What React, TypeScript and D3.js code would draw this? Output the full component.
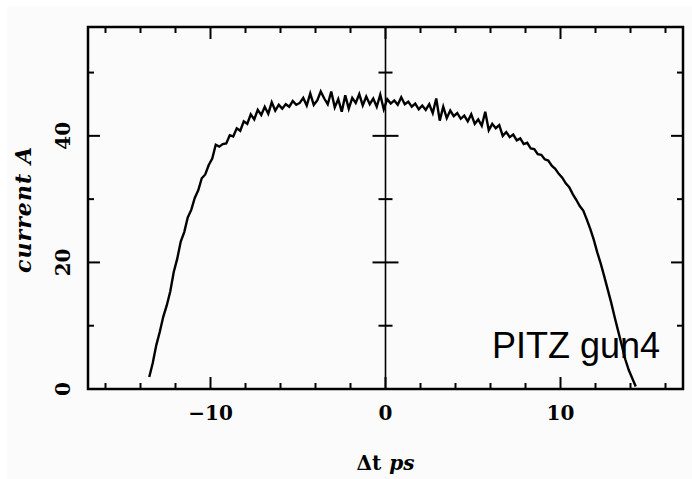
import React from "react";
import * as d3 from "d3";

const TIMES = [
  -13.5, -13.3, -13.1, -12.9, -12.7, -12.5, -12.3, -12.1, -11.9, -11.7,
  -11.5, -11.3, -11.1, -10.9, -10.7, -10.5, -10.3, -10.1, -9.9, -9.7,
  -9.5, -9.3, -9.1, -8.9, -8.7, -8.5, -8.3, -8.1, -7.9, -7.7,
  -7.5, -7.3, -7.1, -6.9, -6.7, -6.5, -6.3, -6.1, -5.9, -5.7,
  -5.5, -5.3, -5.1, -4.9, -4.7, -4.5, -4.3, -4.1, -3.9, -3.7,
  -3.5, -3.3, -3.1, -2.9, -2.7, -2.5, -2.3, -2.1, -1.9, -1.7,
  -1.5, -1.3, -1.1, -0.9, -0.7, -0.5, -0.3, -0.1, 0.1, 0.3,
  0.5, 0.7, 0.9, 1.1, 1.3, 1.5, 1.7, 1.9, 2.1, 2.3,
  2.5, 2.7, 2.9, 3.1, 3.3, 3.5, 3.7, 3.9, 4.1, 4.3,
  4.5, 4.7, 4.9, 5.1, 5.3, 5.5, 5.7, 5.9, 6.1, 6.3,
  6.5, 6.7, 6.9, 7.1, 7.3, 7.5, 7.7, 7.9, 8.1, 8.3,
  8.5, 8.7, 8.9, 9.1, 9.3, 9.5, 9.7, 9.9, 10.1, 10.3,
  10.5, 10.7, 10.9, 11.1, 11.3, 11.5, 11.7, 11.9, 12.1, 12.3,
  12.5, 12.7, 12.9, 13.1, 13.3, 13.5, 13.7, 13.9, 14.1, 14.3,
];

const CURRENT = [
  1.9, 4.1, 6.9, 9.0, 11.4, 13.2, 15.4, 18.5, 20.6, 23.3,
  24.8, 27.1, 28.3, 30.2, 31.4, 33.3, 33.9, 35.4, 36.4, 38.6,
  38.3, 38.7, 38.8, 40.1, 39.9, 41.2, 40.8, 42.3, 41.9, 43.4,
  42.6, 44.1, 43.3, 44.6, 43.5, 45.3, 44.0, 44.9, 44.3, 45.0,
  44.6, 45.5, 44.9, 45.2, 46.0, 44.8, 46.7, 44.9, 45.6, 47.0,
  45.9, 45.0, 47.0, 44.5, 45.8, 43.8, 46.4, 44.3, 46.0, 45.2,
  46.6, 44.8, 46.2, 45.0, 45.9, 44.6, 46.5, 44.2, 45.8, 45.1,
  45.6, 44.9, 46.1, 45.0, 45.4, 44.6, 45.1, 44.2, 44.8, 44.1,
  45.0, 43.6, 45.9, 42.4, 44.6, 42.8, 44.0, 43.1, 43.6, 42.7,
  43.2, 42.3, 43.4, 41.9, 42.6, 41.6, 43.8, 40.9, 41.9, 41.2,
  41.7, 40.0, 40.6, 39.8, 40.2, 39.3, 39.6, 38.7, 38.9, 38.0,
  37.9, 37.1, 37.0, 36.3, 36.1, 35.3, 34.8, 34.0, 33.4, 32.5,
  31.9, 30.8, 29.9, 28.9, 28.2, 26.8, 25.3, 23.6, 21.6, 19.8,
  17.8, 15.7, 13.6, 11.3, 9.1, 6.9, 4.7, 3.0, 1.7, 0.4,
];

const X_MAJOR = [-10, 0, 10];
const X_MAJOR_LABELS = ["\u221210", "0", "10"];
const X_MINOR = [-16, -14, -12, -8, -6, -4, -2, 2, 4, 6, 8, 12, 14, 16];
const Y_MAJOR = [0, 20, 40];
const Y_MAJOR_LABELS = ["0", "20", "40"];
const Y_MINOR = [10, 30, 50];
const X_TITLE_A = "\u0394t";
const X_TITLE_B = "ps";
const Y_TITLE = "current A";
const NOTE = "PITZ gun4";

const W = 692;
const H = 479;
const L = 88;
const R = 683;
const T = 27;
const B = 389;

export default function App() {
  const x = d3.scaleLinear().domain([-17, 17]).range([L, R]);
  const y = d3.scaleLinear().domain([0, 57.2]).range([B, T]);
  const pts: [number, number][] = TIMES.map((t, i) => [t, CURRENT[i]]);
  const line = d3
    .line<[number, number]>()
    .x((d) => x(d[0]))
    .y((d) => y(d[1]))
    .curve(d3.curveLinear);
  const MAJ = 12;
  const MIN = 6;
  const x0 = x(0);
  const tickFont = { fontFamily: "DejaVu Serif", fontWeight: 700, fontSize: 20 } as const;

  return (
    <svg
      width={W}
      height={H}
      style={{ position: "absolute", left: 0, top: 0 }}
      xmlns="http://www.w3.org/2000/svg"
    >
      <rect x={0} y={0} width={W} height={H} fill="#ffffff" />
      <rect x={7} y={6} width={W - 7} height={H - 6} fill="#fbfbfb" />

      {X_MAJOR.map((v) => (
        <g key={"xM" + v} stroke="#000" strokeWidth={2}>
          <line x1={x(v)} x2={x(v)} y1={B} y2={B - MAJ} />
          <line x1={x(v)} x2={x(v)} y1={T} y2={T + MAJ} />
        </g>
      ))}
      {X_MINOR.map((v) => (
        <g key={"xm" + v} stroke="#000" strokeWidth={2}>
          <line x1={x(v)} x2={x(v)} y1={B} y2={B - MIN} />
          <line x1={x(v)} x2={x(v)} y1={T} y2={T + MIN} />
        </g>
      ))}
      {Y_MAJOR.map((v) => (
        <g key={"yM" + v} stroke="#000" strokeWidth={2}>
          <line x1={L} x2={L + MAJ} y1={y(v)} y2={y(v)} />
          <line x1={R} x2={R - MAJ} y1={y(v)} y2={y(v)} />
          <line x1={x0 - 13} x2={x0 + 13} y1={y(v)} y2={y(v)} />
        </g>
      ))}
      {Y_MINOR.map((v) => (
        <g key={"ym" + v} stroke="#000" strokeWidth={2}>
          <line x1={L} x2={L + MIN} y1={y(v)} y2={y(v)} />
          <line x1={R} x2={R - MIN} y1={y(v)} y2={y(v)} />
          <line x1={x0 - 7} x2={x0 + 7} y1={y(v)} y2={y(v)} />
        </g>
      ))}

      <line x1={x0} x2={x0} y1={T} y2={B} stroke="#000" strokeWidth={1.6} />

      <path d={line(pts) || ""} fill="none" stroke="#000" strokeWidth={2.4} strokeLinejoin="miter" />

      <rect x={L} y={T} width={R - L} height={B - T} fill="none" stroke="#000" strokeWidth={2.5} />

      {X_MAJOR.map((v, i) => (
        <text key={"xl" + v} x={x(v)} y={420} textAnchor="middle" {...tickFont} fill="#000">
          {X_MAJOR_LABELS[i]}
        </text>
      ))}
      {Y_MAJOR.map((v, i) => (
        <text
          key={"yl" + v}
          transform={`translate(70,${y(v)}) rotate(-90)`}
          textAnchor="middle"
          {...tickFont}
          fill="#000"
        >
          {Y_MAJOR_LABELS[i]}
        </text>
      ))}

      <text x={x0} y={470} textAnchor="middle" fontFamily="DejaVu Serif" fontWeight={700} fontSize={20} fill="#000">
        <tspan>{X_TITLE_A}</tspan>
        <tspan dx={8} fontStyle="italic">{X_TITLE_B}</tspan>
      </text>
      <text
        transform={`translate(31,210) rotate(-90)`}
        textAnchor="middle"
        fontFamily="DejaVu Serif"
        fontWeight={700}
        fontStyle="italic"
        fontSize={22}
        fill="#000"
        textLength={126}
        lengthAdjust="spacing"
      >
        {Y_TITLE}
      </text>

      <text x={492} y={358} fontFamily="Liberation Sans, Arial, sans-serif" fontSize={36} fill="#000">
        {NOTE}
      </text>
    </svg>
  );
}
